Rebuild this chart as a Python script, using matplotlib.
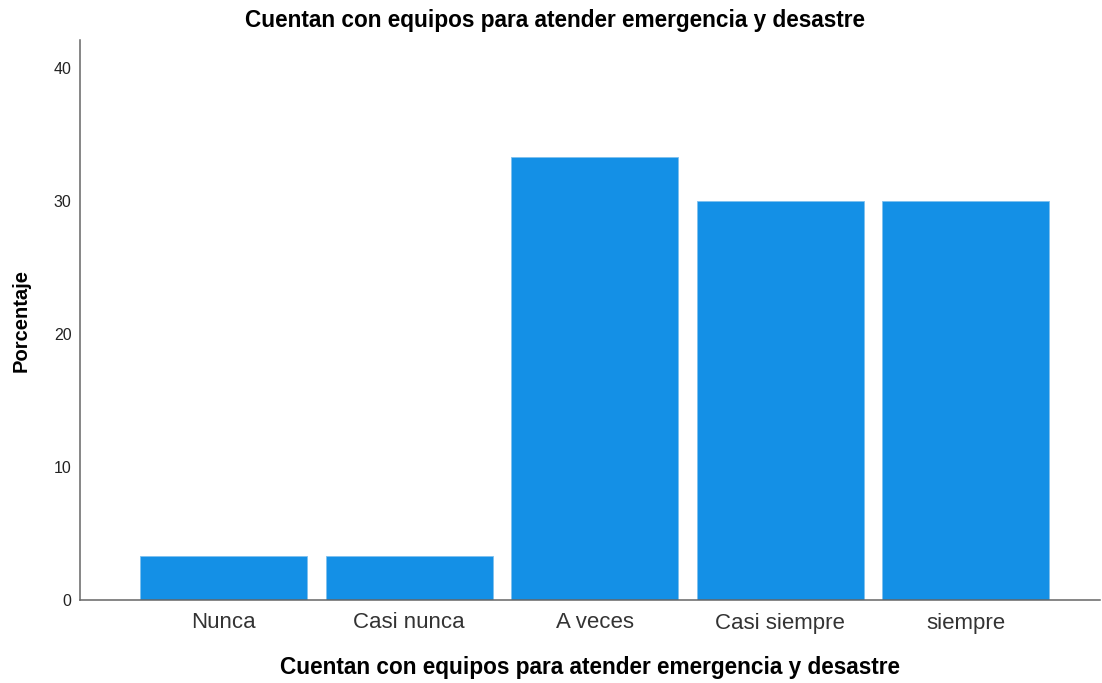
import matplotlib
matplotlib.use("Agg")
import matplotlib.pyplot as plt

categories = ["Nunca", "Casi nunca", "A veces", "Casi siempre", "siempre"]
values = [3.33, 3.33, 33.33, 30.0, 30.0]
yticks = [0, 10, 20, 30, 40]

plt.rcParams['font.family'] = ['Liberation Sans', 'DejaVu Sans']

fig = plt.figure(figsize=(11.02, 6.83), dpi=100)
ax = fig.add_axes([80/1102, 83/683, 1020/1102, 560/683])

x = list(range(len(categories)))
ax.bar(x, values, width=0.9, color='#1490E6', edgecolor='#7fc0ee', linewidth=0.6)

ax.set_xlim(-0.774, 4.725)
ax.set_ylim(0, 42.1)
ax.set_yticks(yticks)
ax.set_yticklabels([str(t) for t in yticks], fontsize=11.5, color='#222222')
ax.set_xticks(x)
ax.set_xticklabels(categories, fontsize=16, color='#333333')
ax.tick_params(axis='both', length=0)
ax.tick_params(axis='y', pad=6)
ax.tick_params(axis='x', pad=9)

for s in ['top', 'right']:
    ax.spines[s].set_visible(False)
for s in ['left', 'bottom']:
    ax.spines[s].set_color('#666666')
    ax.spines[s].set_linewidth(1.1)

fig.text(555/1102, 1 - 21/683, "Cuentan con equipos para atender emergencia y desastre",
         fontsize=16.3, fontweight='bold', ha='center', va='center')
ax.set_xlabel("Cuentan con equipos para atender emergencia y desastre",
              fontsize=16.3, fontweight='bold', labelpad=16.5)
ax.set_ylabel("Porcentaje", fontsize=14.5, fontweight='bold', labelpad=17)

fig.savefig("out.png", dpi=100)
